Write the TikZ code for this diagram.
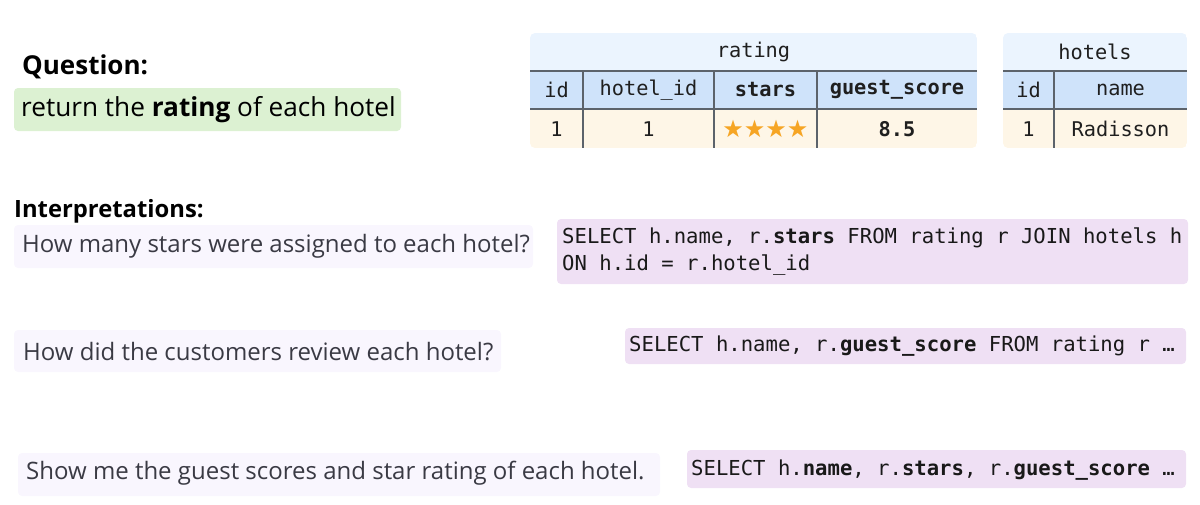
\documentclass[tikz,border=0pt]{standalone}
\usepackage{fontspec}
\setmainfont{Open Sans}
\setmonofont{DejaVu Sans Mono}
\newfontfamily\starfont{DejaVu Sans}
\definecolor{qgreen}{HTML}{DCF1D2}
\definecolor{tbltitle}{HTML}{EBF4FE}
\definecolor{tblhead}{HTML}{CFE3FA}
\definecolor{tbldata}{HTML}{FEF6E7}
\definecolor{tblline}{HTML}{5C636B}
\definecolor{sqlbg}{HTML}{EFE0F4}
\definecolor{intbg}{HTML}{F9F6FE}
\definecolor{inttext}{HTML}{3A3A44}
\definecolor{starc}{HTML}{F6A524}
\begin{document}
\begin{tikzpicture}[x=1pt,y=-1pt,
  heading/.style={anchor=west,inner sep=0pt,font=\fontsize{26}{30}\selectfont\bfseries},
  qtext/.style={anchor=west,inner sep=0pt,font=\fontsize{26.2}{30}\selectfont,text=black},
  itext/.style={anchor=west,inner sep=0pt,font=\fontsize{24}{28}\selectfont,text=inttext},
  sqltext/.style={anchor=west,inner sep=0pt,font=\ttfamily\fontsize{20.6}{27}\selectfont,text=black!90,align=left},
  cell/.style={inner sep=0pt,font=\ttfamily\fontsize{20.3}{24}\selectfont,text=black!88},
  tline/.style={draw=tblline,line width=1.4pt},
  boxr/.style={rounded corners=4pt}
]
\useasboundingbox (0,0) rectangle (1200,504);

% Question
\node[heading] (qhead) at (22,67) {Question:};
\fill[qgreen,boxr] (14,88) rectangle (401,131);
\node[qtext] (qtext) at (21,110) {return the \textbf{rating} of each hotel};

% rating table
\begin{scope}
\clip[rounded corners=5pt] (530,33) rectangle (977,148);
\fill[tbltitle] (530,33) rectangle (977,71);
\fill[tblhead] (530,71) rectangle (977,109);
\fill[tbldata] (530,109) rectangle (977,148);
\end{scope}
\draw[tline] (530,71) -- (977,71);
\draw[tline] (530,109) -- (977,109);
\draw[tline] (583,71) -- (583,148);
\draw[tline] (714,71) -- (714,148);
\draw[tline] (817,71) -- (817,148);
\node[cell] (rtitle) at (753.5,52) {rating};
\node[cell] (rh1) at (556.5,90) {id};
\node[cell] (rh2) at (648.5,90) {hotel\_id};
\node[cell] (rh3) at (765.5,90) {\bfseries stars};
\node[cell] (rh4) at (897,90) {\bfseries guest\_score};
\node[cell] (rd1) at (556.5,129) {1};
\node[cell] (rd2) at (648.5,129) {1};
\node[cell,text=starc,font=\starfont\fontsize{24}{24}\selectfont] (rd3) at (765.5,129) {★★★★};
\node[cell] (rd4) at (897,129) {\bfseries 8.5};

% hotels table
\begin{scope}
\clip[rounded corners=5pt] (1003,33) rectangle (1187,148);
\fill[tbltitle] (1003,33) rectangle (1187,71);
\fill[tblhead] (1003,71) rectangle (1187,109);
\fill[tbldata] (1003,109) rectangle (1187,148);
\end{scope}
\draw[tline] (1003,71) -- (1187,71);
\draw[tline] (1003,109) -- (1187,109);
\draw[tline] (1054,71) -- (1054,148);
\node[cell] (htitle) at (1095,52) {hotels};
\node[cell] (hh1) at (1028.5,90) {id};
\node[cell] (hh2) at (1120.5,90) {name};
\node[cell] (hd1) at (1028.5,129) {1};
\node[cell] (hd2) at (1120.5,129) {Radisson};

% Interpretations
\node[heading,font=\fontsize{23.8}{28}\selectfont\bfseries] (ihead) at (14,211) {Interpretations:};

\fill[intbg,boxr] (14,225) rectangle (533,268);
\node[itext] (i1) at (22,246) {How many stars were assigned to each hotel?};
\fill[sqlbg,boxr] (557,219) rectangle (1188,284);
\node[sqltext] (s1) at (562,252) {SELECT h.name, r.\textbf{stars} FROM rating r JOIN hotels h\\ON h.id = r.hotel\_id};

\fill[intbg,boxr] (14,330) rectangle (501,372);
\node[itext] (i2) at (23,352) {How did the customers review each hotel?};
\fill[sqlbg,boxr] (625,328) rectangle (1186,364);
\node[sqltext] (s2) at (629,346) {SELECT h.name, r.\textbf{guest\_score} FROM rating r …};

\fill[intbg,boxr] (18,453) rectangle (660,496);
\node[itext] (i3) at (26,473) {Show me the guest scores and star rating of each hotel.};
\fill[sqlbg,boxr] (687,450) rectangle (1186,488);
\node[sqltext] (s3) at (691,470) {SELECT h.\textbf{name}, r.\textbf{stars}, r.\textbf{guest\_score} …};
\end{tikzpicture}
\end{document}
